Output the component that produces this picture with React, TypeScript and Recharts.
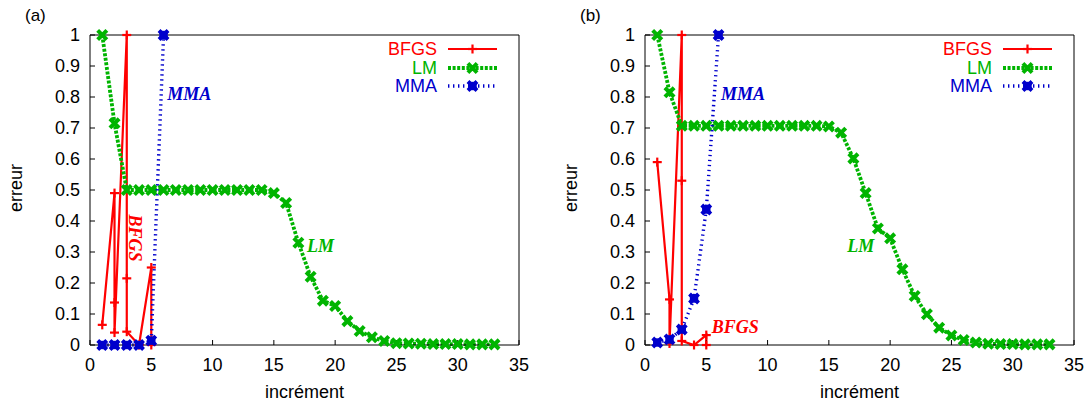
import React from "react";
import { Legend, Line, LineChart, ReferenceDot, XAxis, YAxis } from "recharts";

const xTicks = [0, 5, 10, 15, 20, 25, 30, 35];
const yTicks = [0, 0.1, 0.2, 0.3, 0.4, 0.5, 0.6, 0.7, 0.8, 0.9, 1];

const lmIncrements = [1, 2, 3, 4, 5, 6, 7, 8, 9, 10, 11, 12, 13, 14, 15, 16, 17, 18, 19, 20, 21, 22, 23, 24, 25, 26, 27, 28, 29, 30, 31, 32, 33];
const mmaIncrements = [1, 2, 3, 4, 5, 6];

// (a)
const bfgsIncA = [1, 2, 2, 2, 3, 3, 3, 4, 5, 5];
const bfgsErrA = [0.065, 0.49, 0.137, 0.04, 1.0, 0.215, 0.043, 0.0, 0.25, 0.0];
const lmErrA = [1.0, 0.715, 0.5, 0.5, 0.5, 0.5, 0.5, 0.5, 0.5, 0.5, 0.5, 0.5, 0.5, 0.5, 0.49, 0.458, 0.33, 0.22, 0.143, 0.126, 0.077, 0.045, 0.025, 0.013, 0.006, 0.005, 0.004, 0.003, 0.003, 0.003, 0.002, 0.002, 0.002];
const mmaErrA = [0.0, 0.0, 0.0, 0.0, 0.014, 1.0];

// (b)
const bfgsIncB = [1, 2, 2, 3, 3, 3, 4, 5, 5];
const bfgsErrB = [0.59, 0.147, 0.005, 1.0, 0.53, 0.013, 0.0, 0.032, 0.0];
const lmErrB = [1.0, 0.815, 0.707, 0.707, 0.707, 0.707, 0.707, 0.707, 0.707, 0.707, 0.707, 0.707, 0.707, 0.707, 0.705, 0.685, 0.602, 0.49, 0.376, 0.344, 0.244, 0.158, 0.099, 0.056, 0.031, 0.016, 0.008, 0.004, 0.003, 0.003, 0.002, 0.002, 0.002];
const mmaErrB = [0.008, 0.018, 0.05, 0.15, 0.437, 1.0];

const RED = "#ff0000";
const GREEN = "#00b400";
const BLUE = "#0000cc";
const SANS = '"Liberation Sans", Arial, Helvetica, sans-serif';
const SERIF = '"Liberation Serif", "Times New Roman", serif';

type Note = { text: string; x: number; y: number; color: string; vertical?: boolean };

const notesA: Note[] = [
  { text: "MMA", x: 6.3, y: 0.79, color: BLUE },
  { text: "BFGS", x: 3.67, y: 0.345, color: RED, vertical: true },
  { text: "LM", x: 17.7, y: 0.3, color: GREEN },
];
const notesB: Note[] = [
  { text: "MMA", x: 6.2, y: 0.79, color: BLUE },
  { text: "BFGS", x: 5.45, y: 0.039, color: RED },
  { text: "LM", x: 16.5, y: 0.3, color: GREEN },
];

const toRows = (xs: number[], ys: number[]) => xs.map((x, i) => ({ x, y: ys[i] }));

function plusMark(cx: number, cy: number, key?: string) {
  return (
    <g key={key}>
      <line x1={cx - 4.5} x2={cx + 4.5} y1={cy} y2={cy} stroke={RED} strokeWidth={2.2} />
      <line x1={cx} x2={cx} y1={cy - 4.5} y2={cy + 4.5} stroke={RED} strokeWidth={2.2} />
    </g>
  );
}

function crossMark(cx: number, cy: number, key?: string) {
  const s = 4.6;
  return (
    <path
      key={key}
      d={`M${cx - s},${cy - s}L${cx + s},${cy + s}M${cx - s},${cy + s}L${cx + s},${cy - s}`}
      stroke={GREEN}
      strokeWidth={4}
      fill="none"
    />
  );
}

function blobMark(cx: number, cy: number, key?: string) {
  const s = 4.5;
  return (
    <g key={key}>
      <path
        d={`M${cx - s},${cy - s}L${cx + s},${cy + s}M${cx - s},${cy + s}L${cx + s},${cy - s}`}
        stroke={BLUE}
        strokeWidth={4}
        fill="none"
      />
      <rect x={cx - 4.2} y={cy - 4.2} width={8.4} height={8.4} fill={BLUE} />
    </g>
  );
}

const legendItems = [
  { name: "BFGS", color: RED, width: 2.2, dash: undefined as string | undefined, mark: plusMark },
  { name: "LM", color: GREEN, width: 3.8, dash: "3 1.6", mark: crossMark },
  { name: "MMA", color: BLUE, width: 3.4, dash: "1.4 3.6", mark: blobMark },
];

function LegendBox() {
  return (
    <div style={{ fontFamily: SANS, fontSize: 18 }}>
      {legendItems.map((it) => (
        <div key={it.name} style={{ display: "flex", alignItems: "center", height: 18.4 }}>
          <span style={{ width: 100, textAlign: "right", color: it.color, lineHeight: "18px" }}>{it.name}</span>
          <svg width={50} height={16} style={{ marginLeft: 11, overflow: "visible" }}>
            <line x1={0} x2={49} y1={8} y2={8} stroke={it.color} strokeWidth={it.width} strokeDasharray={it.dash} />
            {it.mark(24.5, 8)}
          </svg>
        </div>
      ))}
    </div>
  );
}

type PanelProps = {
  tag: string;
  left: number;
  bfgs: { x: number; y: number }[];
  lm: { x: number; y: number }[];
  mma: { x: number; y: number }[];
  notes: Note[];
};

const tickStyle = { fontSize: 18, fill: "#000", fontFamily: SANS };

function Panel({ tag, left, bfgs, lm, mma, notes }: PanelProps) {
  return (
    <div style={{ position: "absolute", left, top: 0, width: 545, height: 405 }}>
      <span
        style={{ position: "absolute", left: 25, top: 7, fontSize: 17, lineHeight: "17px", fontFamily: SANS }}
      >
        {tag}
      </span>
      <LineChart width={545} height={405} margin={{ top: 34, right: 25, bottom: 30, left: 0 }}>
        <XAxis
          dataKey="x"
          type="number"
          domain={[0, 35]}
          ticks={xTicks}
          height={30}
          tickSize={-5}
          tickMargin={18}
          stroke="#000"
          tick={tickStyle}
          label={(p: any) => {
            const vb = p.viewBox;
            return (
              <text x={vb.x + vb.width / 2} y={vb.y + 53} textAnchor="middle" fontSize={18} fontFamily={SANS} fill="#000">
                incrément
              </text>
            );
          }}
        />
        <XAxis
          xAxisId="top"
          orientation="top"
          type="number"
          domain={[0, 35]}
          ticks={xTicks}
          height={1}
          tickSize={-5}
          tick={false}
          stroke="#000"
          allowDataOverflow
        />
        <YAxis
          type="number"
          domain={[0, 1]}
          ticks={yTicks}
          width={90}
          tickSize={-5}
          tickMargin={15}
          stroke="#000"
          tick={tickStyle}
          label={(p: any) => {
            const vb = p.viewBox;
            const cx = vb.x + 22;
            const cy = vb.y + vb.height / 2 - 2;
            return (
              <text x={cx} y={cy} transform={`rotate(-90 ${cx} ${cy})`} textAnchor="middle" fontSize={18} fontFamily={SANS} fill="#000">
                erreur
              </text>
            );
          }}
        />
        <YAxis
          yAxisId="right"
          orientation="right"
          type="number"
          domain={[0, 1]}
          ticks={yTicks}
          width={1}
          tickSize={-5}
          tick={false}
          stroke="#000"
          allowDataOverflow
        />
        <Line
          data={bfgs}
          dataKey="y"
          name="BFGS"
          stroke={RED}
          strokeWidth={2.2}
          dot={(p: any) => plusMark(p.cx, p.cy, `b${p.index}`)}
          activeDot={false}
          isAnimationActive={false}
        />
        <Line
          data={lm}
          dataKey="y"
          name="LM"
          stroke={GREEN}
          strokeWidth={3.8}
          strokeDasharray="3 1.6"
          dot={(p: any) => crossMark(p.cx, p.cy, `l${p.index}`)}
          activeDot={false}
          isAnimationActive={false}
        />
        <Line
          data={mma}
          dataKey="y"
          name="MMA"
          stroke={BLUE}
          strokeWidth={3.4}
          strokeDasharray="1.4 3.6"
          dot={(p: any) => blobMark(p.cx, p.cy, `m${p.index}`)}
          activeDot={false}
          isAnimationActive={false}
        />
        {notes.map((n) => (
          <ReferenceDot
            key={n.text}
            x={n.x}
            y={n.y}
            r={0}
            shape={(p: any) => (
              <text
                x={p.cx}
                y={p.cy}
                fill={n.color}
                fontFamily={SERIF}
                fontStyle="italic"
                fontWeight="bold"
                fontSize={18}
                textAnchor={n.vertical ? "middle" : "start"}
                dominantBaseline={n.vertical ? "central" : "auto"}
                transform={n.vertical ? `rotate(90 ${p.cx} ${p.cy})` : undefined}
              >
                {n.text}
              </text>
            )}
          />
        ))}
        <Legend
          layout="horizontal"
          verticalAlign="middle"
          align="center"
          wrapperStyle={{ top: 40, left: 337, right: "auto", width: 180 }}
          content={() => <LegendBox />}
        />
      </LineChart>
    </div>
  );
}

export default function App() {
  return (
    <div style={{ position: "absolute", left: 0, top: 0, width: 1091, height: 405, background: "#fff" }}>
      <Panel
        tag="(a)"
        left={0}
        bfgs={toRows(bfgsIncA, bfgsErrA)}
        lm={toRows(lmIncrements, lmErrA)}
        mma={toRows(mmaIncrements, mmaErrA)}
        notes={notesA}
      />
      <Panel
        tag="(b)"
        left={555}
        bfgs={toRows(bfgsIncB, bfgsErrB)}
        lm={toRows(lmIncrements, lmErrB)}
        mma={toRows(mmaIncrements, mmaErrB)}
        notes={notesB}
      />
    </div>
  );
}
